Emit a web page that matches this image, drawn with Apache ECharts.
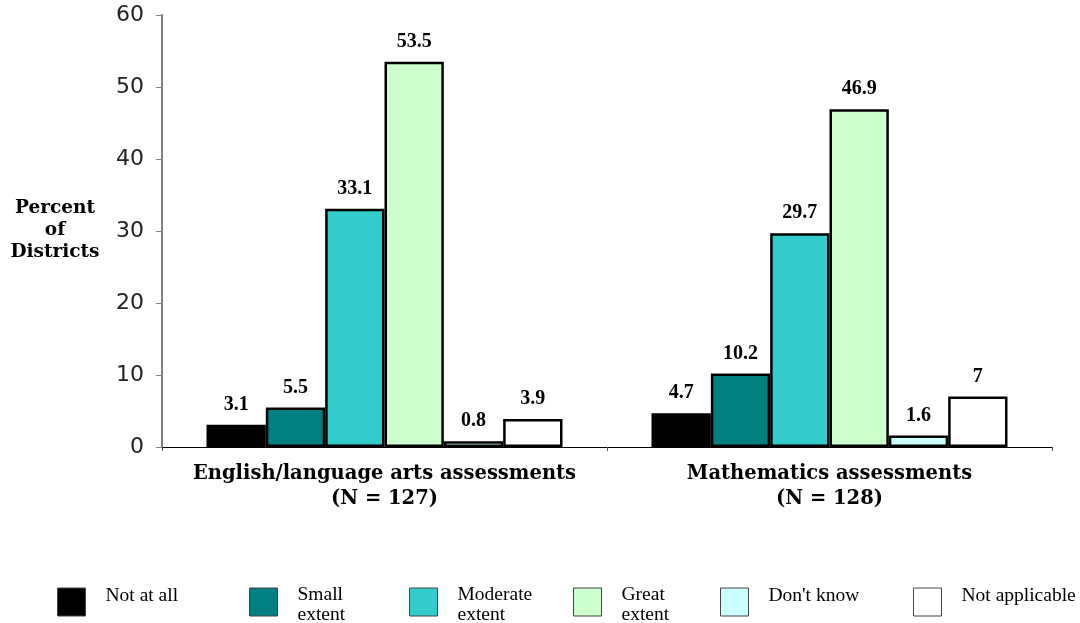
<!DOCTYPE html>
<html>
<head>
<meta charset="utf-8">
<script src="https://cdn.jsdelivr.net/npm/echarts@6/dist/echarts.min.js"></script>
<style>
  html, body { margin: 0; padding: 0; background: #fff; }
  #main { width: 1080px; height: 623px; }
</style>
</head>
<body>
<div id="main"></div>
<script>
// categories along the x axis
var categories = ['English/language arts assessments\n(N = 127)', 'Mathematics assessments\n(N = 128)'];

// one series per response, values for [ELA, Math]
var seriesNames = ['Not at all', 'Small extent', 'Moderate extent', 'Great extent', "Don't know", 'Not applicable'];
var notAtAll = [3.1, 4.7];
var smallExtent = [5.5, 10.2];
var moderateExtent = [33.1, 29.7];
var greatExtent = [53.5, 46.9];
var dontKnow = [0.8, 1.6];
var notApplicable = [3.9, 7];

var colors = ['#000000', '#008080', '#33CCCC', '#CCFFCC', '#CCFFFF', '#FFFFFF'];
// legend text, first and second line
var legendLine1 = ['Not at all', 'Small', 'Moderate', 'Great', "Don't know", 'Not applicable'];
var legendLine2 = ['', 'extent', 'extent', 'extent', '', ''];
var legendLeft = [57, 249, 409, 573, 720, 913];

var values = [notAtAll, smallExtent, moderateExtent, greatExtent, dontKnow, notApplicable];
var serif = '"DejaVu Serif", serif';
var times = '"Liberation Serif", serif';

var chart = echarts.init(document.getElementById('main'));

var series = [];
for (var i = 0; i < seriesNames.length; i++) {
	series.push({
		name: seriesNames[i],
		type: 'bar',
		data: values[i],
		barGap: '0%',
		barCategoryGap: '20%',
		itemStyle: { color: colors[i], borderColor: '#000', borderWidth: 2.5 },
		label: {
			show: true,
			position: 'top',
			distance: 10,
			fontFamily: times,
			fontWeight: 'bold',
			fontSize: 20,
			color: '#000'
		}
	});
}

// single line labels get a short blank line below so they sit above the box centre
var legendRich = {
	one: { fontFamily: times, fontSize: 19.5, color: '#000', lineHeight: 20 },
	pad: { fontFamily: times, fontSize: 19.5, color: '#000', lineHeight: 12 }
};
var legends = [];
for (var j = 0; j < seriesNames.length; j++) {
	var twoLines = legendLine2[j] !== '';
	var txt = twoLines
		? legendLine1[j] + '\n' + legendLine2[j]
		: '{one|' + legendLine1[j] + '}\n{pad| }';
	legends.push({
		data: [seriesNames[j]],
		left: legendLeft[j],
		top: twoLines ? 579 : 586,
		padding: 0,
		itemWidth: 28,
		itemHeight: 28,
		icon: 'rect',
		selectedMode: false,
		itemStyle: { borderColor: '#444', borderWidth: 1 },
		formatter: (function(s) { return function() { return s; }; })(txt),
		textStyle: {
			fontFamily: times,
			fontSize: 19.5,
			color: '#000',
			lineHeight: 20,
			padding: twoLines ? [6, 0, 0, 15] : [0, 0, 0, 15],
			rich: legendRich
		}
	});
}

chart.setOption({
	animation: false,
	backgroundColor: '#fff',
	grid: { left: 162, right: 28, top: 15, bottom: 176 },
	legend: legends,
	xAxis: {
		type: 'category',
		data: categories,
		axisLine: { lineStyle: { color: '#000', width: 1 } },
		axisTick: { show: true, length: 4, lineStyle: { color: '#555' } },
		axisLabel: {
			interval: 0,
			fontFamily: serif,
			fontWeight: 'bold',
			fontSize: 19.5,
			color: '#000',
			lineHeight: 25,
			margin: 14
		}
	},
	yAxis: {
		type: 'value',
		min: 0,
		max: 60,
		interval: 10,
		axisLine: { show: true, lineStyle: { color: '#808080', width: 2 } },
		axisTick: { show: true, length: 6, lineStyle: { color: '#808080' } },
		splitLine: { show: false },
		axisLabel: {
			fontFamily: '"DejaVu Sans", sans-serif',
			fontSize: 22,
			color: '#222',
			margin: 18
		}
	},
	graphic: [{
		type: 'text',
		x: 55,
		y: 197,
		style: {
			text: 'Percent\nof\nDistricts',
			fontFamily: serif,
			fontWeight: 'bold',
			fontSize: 18.5,
			lineHeight: 22,
			align: 'center',
			fill: '#000'
		}
	}],
	series: series
});
</script>
</body>
</html>
